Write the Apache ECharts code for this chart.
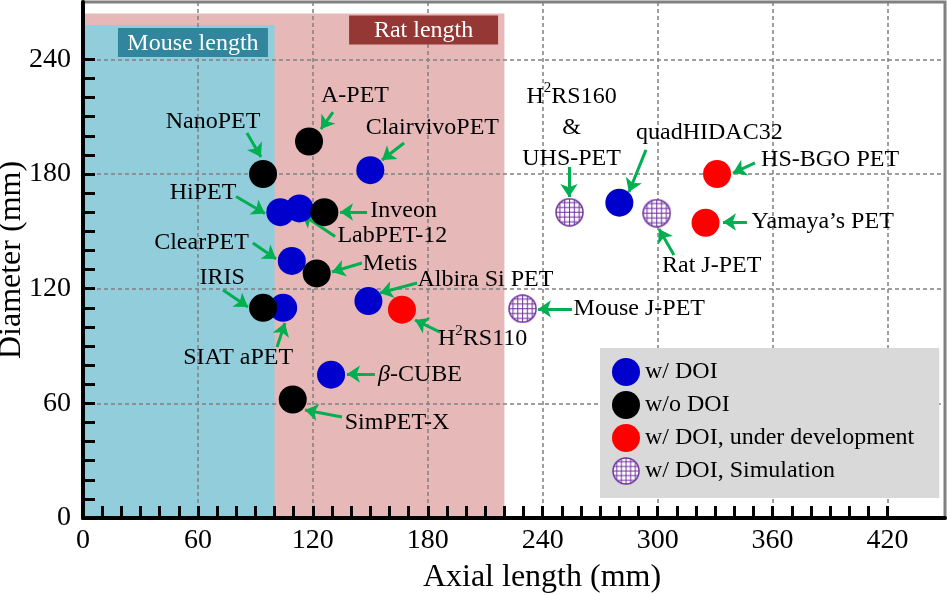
<!DOCTYPE html>
<html><head><meta charset="utf-8">
<script src="https://cdn.jsdelivr.net/npm/echarts@6/dist/echarts.min.js"></script>
<style>html,body{margin:0;padding:0;background:#fff}#c{width:947px;height:595px}</style>
</head><body><div id="c"></div>
<script>
// ---------------- DATA ----------------
const groupNames = ['w/ DOI', 'w/o DOI', 'w/ DOI, under development', 'w/ DOI, Simulation'];
const scanners = ['NanoPET', 'A-PET', 'ClairvivoPET', 'HiPET', 'LabPET-12', 'Inveon', 'ClearPET', 'Metis',
  'IRIS', 'SIAT aPET', 'Albira Si PET', 'H2RS110', 'beta-CUBE', 'SimPET-X', 'Mouse J-PET',
  'H2RS160 & UHS-PET', 'quadHIDAC32', 'Rat J-PET', 'HS-BGO PET', 'Yamaya\u2019s PET'];
const axialLength = [94, 118, 150, 103, 113, 126, 109, 122, 94, 104.5, 149, 166.5, 129.5, 109.5, 229.5, 254, 280, 299.5, 331, 325];
const diameterMm  = [180, 197, 182, 160, 162, 160, 134.5, 128, 110, 110, 113.5, 109, 75, 62, 109.5, 160, 165, 159.5, 180, 154.5];
const scannerGroup = [1, 1, 0, 0, 0, 1, 0, 1, 1, 0, 0, 2, 0, 1, 3, 3, 0, 3, 2, 2];
const xTickValues = [0, 60, 120, 180, 240, 300, 360, 420];
const yTickValues = [0, 60, 120, 180, 240];
// animal length regions (axial extent, diameter extent)
const regionNames = ['Rat length', 'Mouse length'];
const regionAxial = [220, 100];
const regionDiameter = [264, 258];
// annotation arrows (tail -> head) in data units
const arrowTail = [[85.6,201.5],[130.5,212.4],[167.6,196.2],[79.9,168.2],[131.6,147.3],[148.3,160.1],[88.7,143.9],[145.6,133.4],
  [73.1,119.3],[101.3,89.5],[174.4,123.0],[186.4,97.3],[152.4,75.3],[135.2,52.8],[255.3,109.4],
  [253.7,183.7],[293.9,192.6],[308.5,137.6],[350.8,185.8],[346.6,154.9]];
const arrowHead = [[92.9,188.9],[124.2,203.5],[156.1,187.3],[95.0,159.3],[114.3,159.0],[134.2,160.1],[100.8,135.5],[130.0,128.7],
  [86.1,110.4],[105.4,102.0],[155.0,117.7],[173.3,103.6],[137.8,75.3],[115.9,56.5],[237.5,109.4],
  [253.7,168.0],[285.0,170.6],[300.7,151.2],[339.3,180.5],[334.1,154.9]];

// ---------------- STYLE ----------------
const FONT = '"Liberation Serif", "Times New Roman", serif';
const groupColors = ['#0000CC', '#000000', '#FF0000', null];
const PURPLE = '#7030A0';
const ARROW = '#00B050';
// label placement: [dx, dy, align]
const labelPlace = [[-50,-52,'center'],[46,-46,'center'],[62,-42,'center'],[-44,-20,'right'],[38,27,'left'],[46,-2,'left'],
  [-43,-18,'right'],[46,-10,'left'],[-41,-30,'center'],[-45,50,'center'],[49,-21,'left'],[36,29,'left'],[47,0,'left'],
  [52,23,'left'],[51,0,'left'],[2,-85,'center'],[90,-70,'center'],[55,53,'center'],[44,-14,'left'],[46,-1,'left']];

function labelText(name) {
  if (name === 'H2RS110') return '{n|H}{sup|2}{n|RS110}';
  if (name === 'H2RS160 & UHS-PET') return '{n|H}{sup|2}{n|RS160}\n{n|&}\n{n|UHS-PET}';
  if (name === 'beta-CUBE') return '{it|\u03B2}{n|-CUBE}';
  return '{n|' + name + '}';
}
const rich = {
  n: {fontSize: 24, fontFamily: FONT, color: '#000', lineHeight: 31},
  it: {fontSize: 24, fontFamily: FONT, color: '#000', fontStyle: 'italic', lineHeight: 31},
  sup: {fontSize: 15, fontFamily: FONT, color: '#000', verticalAlign: 'top', lineHeight: 31, padding: [0, 0, 10, 0]}
};

// hatched circle symbol for the simulation group
function hatchSymbol(size) {
  const s = size * 2;
  const c = document.createElement('canvas');
  c.width = s; c.height = s;
  const g = c.getContext('2d');
  const r = s / 2 - 2;
  g.save();
  g.beginPath(); g.arc(s / 2, s / 2, r, 0, Math.PI * 2); g.closePath();
  g.fillStyle = '#fff'; g.fill();
  g.clip();
  g.strokeStyle = PURPLE; g.lineWidth = 2;
  const step = 9.6;
  for (let p = s / 2 - step * 4; p <= s; p += step) {
    g.beginPath(); g.moveTo(p, 0); g.lineTo(p, s); g.stroke();
    g.beginPath(); g.moveTo(0, p); g.lineTo(s, p); g.stroke();
  }
  g.restore();
  g.beginPath(); g.arc(s / 2, s / 2, r, 0, Math.PI * 2);
  g.strokeStyle = PURPLE; g.lineWidth = 3; g.stroke();
  return 'image://' + c.toDataURL();
}

const chart = echarts.init(document.getElementById('c'), null, {renderer: 'canvas'});

const scatterSeries = groupNames.map((gname, gi) => {
  const data = [];
  scanners.forEach((s, i) => {
    if (scannerGroup[i] !== gi) return;
    const p = labelPlace[i];
    data.push({
      value: [axialLength[i], diameterMm[i]],
      name: s,
      label: {show: true, position: 'inside', offset: [p[0], p[1]], align: p[2], verticalAlign: 'middle',
        formatter: labelText(s), rich: rich, textBorderWidth: 0, color: '#000'}
    });
  });
  const isSim = gi === 3;
  return {
    type: 'scatter', name: gname, xAxisIndex: 0, yAxisIndex: 0, z: 5,
    symbol: isSim ? hatchSymbol(29) : 'circle', symbolSize: isSim ? 29 : 28,
    itemStyle: isSim ? {color: PURPLE, opacity: 1} : {color: groupColors[gi], opacity: 1},
    emphasis: {disabled: true},
    data: data
  };
});

const bgSeries = {
  type: 'scatter', name: 'regions', data: [], z: 1, silent: true,
  markArea: {
    silent: true,
    label: {show: false},
    data: [
      [{xAxis: 0, yAxis: 0, itemStyle: {color: '#E6B9B8', opacity: 1}}, {xAxis: regionAxial[0], yAxis: regionDiameter[0]}],
      [{xAxis: 0, yAxis: 0, itemStyle: {color: '#92CDDC', opacity: 1}}, {xAxis: regionAxial[1], yAxis: regionDiameter[1]}]
    ]
  }
};

const arrowSeries = {
  type: 'lines', coordinateSystem: 'cartesian2d', xAxisIndex: 0, yAxisIndex: 0, z: 4, silent: true,
  symbol: ['none', 'arrow'], symbolSize: 13,
  lineStyle: {color: ARROW, width: 3, opacity: 1, curveness: 0},
  data: arrowTail.map((t, i) => ({coords: [t, arrowHead[i]]}))
};

const gridL = 83, gridR = 2, gridT = 2, gridB = 77;
const plotW = 947 - gridL - gridR, plotH = 595 - gridT - gridB;
const xMax = 450, yMax = 270;
const lastX = xTickValues[xTickValues.length - 1], lastY = yTickValues[yTickValues.length - 1];

const tickStyle = {show: true, inside: true, length: 12, lineStyle: {color: '#000', width: 3}};
const minorStyle = {show: true, splitNumber: 6, length: 12, lineStyle: {color: '#000', width: 3}};

chart.setOption({
  animation: false,
  textStyle: {fontFamily: FONT},
  grid: [
    {left: gridL, right: gridR, top: gridT, bottom: gridB, show: true, borderColor: '#808080', borderWidth: 3,
      backgroundColor: 'transparent', containLabel: false, outerBoundsMode: 'none'},
    {left: gridL, width: plotW * lastX / xMax, top: gridT + plotH * (1 - lastY / yMax), bottom: gridB, show: false,
      containLabel: false, outerBoundsMode: 'none'}
  ],
  xAxis: [
    {type: 'value', gridIndex: 0, min: 0, max: xMax, interval: 60, z: 3,
      name: 'Axial length (mm)', nameLocation: 'middle', nameGap: 44, nameMoveOverlap: false,
      nameTextStyle: {fontSize: 32, color: '#000', fontFamily: FONT, padding: [0, 0, 0, 56]},
      axisLine: {show: true, onZero: false, lineStyle: {color: '#000', width: 4}},
      axisTick: {show: false},
      axisLabel: {fontSize: 28, color: '#000', margin: 9, fontFamily: FONT,
        formatter: v => xTickValues.includes(v) ? String(v) : ''},
      splitLine: {show: true, lineStyle: {color: '#808080', width: 1.5, type: [4, 3]}}},
    {type: 'value', gridIndex: 1, min: 0, max: lastX, interval: 60, z: 3,
      axisLine: {show: false}, axisLabel: {show: false}, splitLine: {show: false},
      axisTick: tickStyle, minorTick: minorStyle}
  ],
  yAxis: [
    {type: 'value', gridIndex: 0, min: 0, max: yMax, interval: 60, z: 3,
      name: 'Diameter (mm)', nameLocation: 'middle', nameGap: 55, nameMoveOverlap: false,
      nameTextStyle: {fontSize: 32, color: '#000', fontFamily: FONT},
      axisLine: {show: true, onZero: false, lineStyle: {color: '#000', width: 4}},
      axisTick: {show: false},
      axisLabel: {fontSize: 28, color: '#000', margin: 12, fontFamily: FONT,
        formatter: v => yTickValues.includes(v) ? String(v) : ''},
      splitLine: {show: true, lineStyle: {color: '#808080', width: 1.5, type: [4, 3]}}},
    {type: 'value', gridIndex: 1, min: 0, max: lastY, interval: 60, z: 3,
      axisLine: {show: false}, axisLabel: {show: false}, splitLine: {show: false},
      axisTick: tickStyle, minorTick: minorStyle}
  ],
  legend: {
    data: groupNames, orient: 'vertical', left: 600, top: 348,
    backgroundColor: '#D9D9D9', padding: [10, 25, 13, 12],
    itemWidth: 28, itemHeight: 28, itemGap: 5, itemTextGap: 8,
    textStyle: {fontSize: 24, color: '#000', fontFamily: FONT},
    selectedMode: false
  },
  series: [bgSeries, arrowSeries].concat(scatterSeries)
});

// region title boxes, anchored in data coordinates
const boxLabels = [
  {text: regionNames[1], at: [57.4, 248.8], w: 150, h: 29, color: '#31859C'},
  {text: regionNames[0], at: [177.8, 255.4], w: 149, h: 29, color: '#953735'}
];
const boxEls = [];
boxLabels.forEach(b => {
  const p = chart.convertToPixel({xAxisIndex: 0, yAxisIndex: 0}, b.at);
  boxEls.push({type: 'rect', z: 10, zlevel: 0, silent: true,
    shape: {x: p[0] - b.w / 2, y: p[1] - b.h / 2, width: b.w, height: b.h}, style: {fill: b.color}});
  boxEls.push({type: 'text', z: 11, zlevel: 0, silent: true, x: p[0], y: p[1] + 1,
    style: {text: b.text, align: 'center', verticalAlign: 'middle', fill: '#fff', font: '24px ' + FONT}});
});
chart.setOption({graphic: {elements: boxEls}});
</script>
</body></html>
